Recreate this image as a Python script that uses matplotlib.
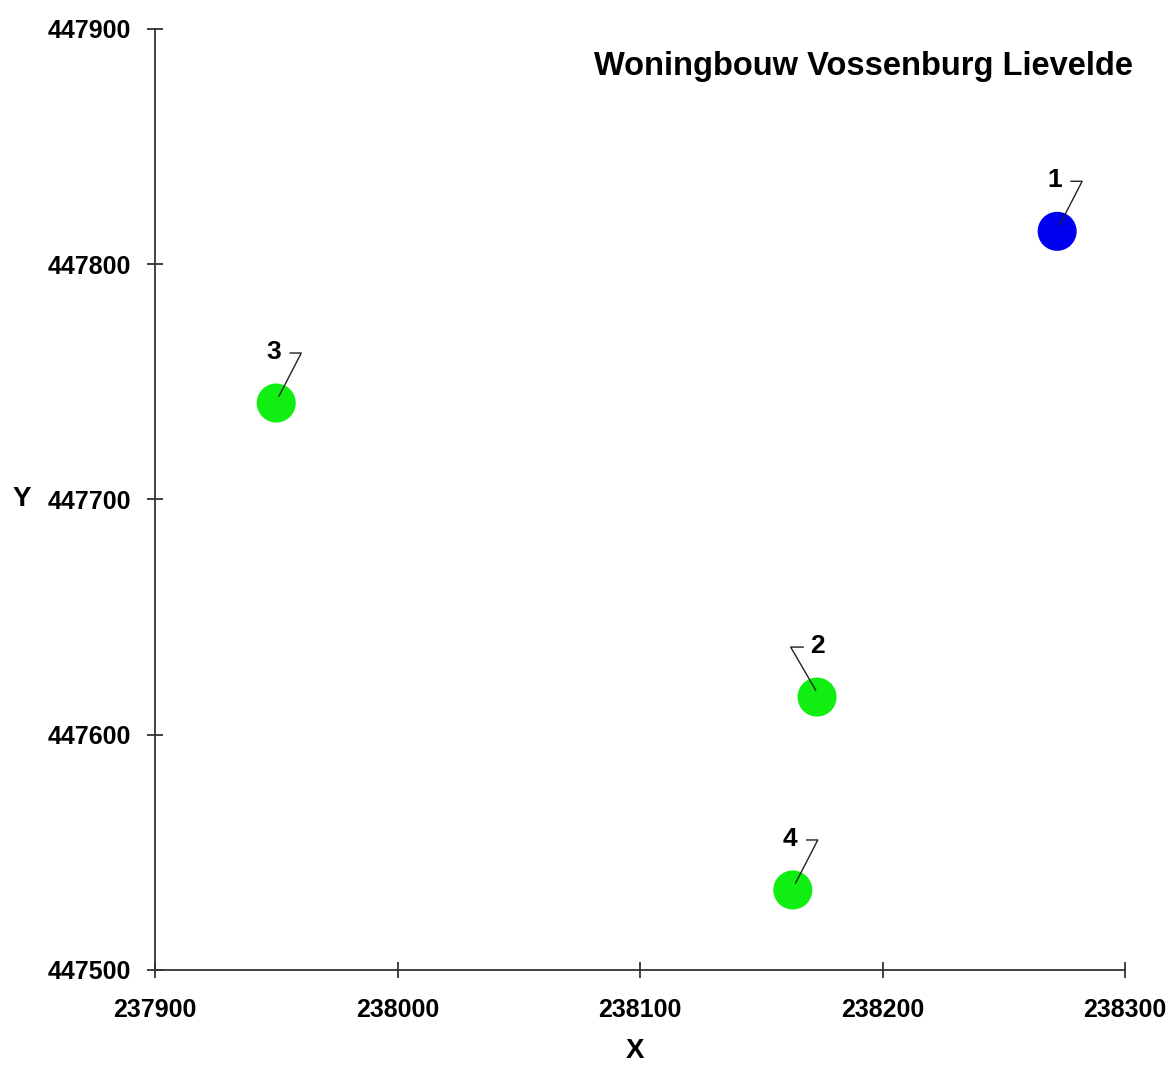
import matplotlib
matplotlib.use("Agg")
import matplotlib.pyplot as plt
from matplotlib.transforms import Affine2D, ScaledTranslation

# punten (RD-coordinaten)
labels = ["1", "2", "3", "4"]
xs = [238272, 238173, 237950, 238163]
ys = [447814, 447616, 447741, 447534]
colors = ["#0000f0", "#11ee11", "#11ee11", "#11ee11"]

xticks = [237900, 238000, 238100, 238200, 238300]
yticks = [447500, 447600, 447700, 447800, 447900]

plt.rcParams["font.family"] = ["Liberation Sans", "DejaVu Sans"]

fig = plt.figure(figsize=(11.69, 10.66), dpi=100)
ax = fig.add_axes([0.1326, 0.0901, 0.8298, 0.8827])

ax.scatter(xs, ys, s=790, c=colors, zorder=3, linewidths=0)

# leader lijntjes + nummers (offsets in points)
right_leader = [(2, 5), (18, 36), (10, 36)]
left_leader = [(-1, 5), (-19, 36), (-10, 36)]
for lab, x, y in zip(labels, xs, ys):
    if lab == "2":
        path, toff = left_leader, (0, 37)
    else:
        path, toff = right_leader, (-2, 37)
    tr = Affine2D().scale(fig.dpi / 72.0) + ScaledTranslation(x, y, ax.transData)
    ax.plot([p[0] for p in path], [p[1] for p in path], color="#222222",
            lw=1.0, transform=tr, zorder=4, clip_on=False)
    ax.annotate(lab, (x, y), xytext=toff, textcoords="offset points",
                ha="center", va="center", fontsize=19, fontweight="bold")

ax.set_xlim(237900, 238300)
ax.set_ylim(447500, 447900)
ax.set_xticks(xticks)
ax.set_yticks(yticks)
ax.set_xticklabels([str(t) for t in xticks])
ax.set_yticklabels([str(t) for t in yticks])

for s in ["top", "right"]:
    ax.spines[s].set_visible(False)
for s in ["left", "bottom"]:
    ax.spines[s].set_color("#333333")
    ax.spines[s].set_linewidth(1.3)

ax.tick_params(direction="inout", length=12, width=1.3, color="#333333",
               labelsize=18)
ax.tick_params(axis="x", pad=14)
ax.tick_params(axis="y", pad=11)
for t in ax.get_xticklabels() + ax.get_yticklabels():
    t.set_fontweight("bold")

ax.set_xlabel("X", fontsize=20, fontweight="bold", va="center")
ax.xaxis.set_label_coords(0.495, -0.086)
ax.set_ylabel("Y", fontsize=20, fontweight="bold", rotation=0, va="center")
ax.yaxis.set_label_coords(-0.137, 0.5)

ax.text(1.008, 0.96, "Woningbouw Vossenburg Lievelde", transform=ax.transAxes,
        ha="right", va="center", fontsize=23.5, fontweight="bold")

fig.savefig("out.png", dpi=100)
